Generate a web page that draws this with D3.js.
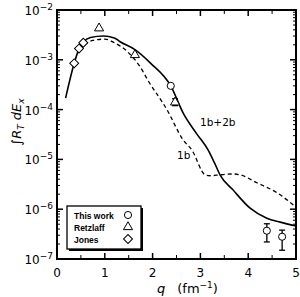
<!DOCTYPE html>
<html>
<head>
<meta charset="utf-8">
<script src="https://cdn.jsdelivr.net/npm/d3@7"></script>
<style>
  body { margin: 0; background: #fff; }
  svg { display: block; font-family: "DejaVu Sans", sans-serif; }
</style>
</head>
<body>
<svg width="300" height="297"></svg>
<script>
// q (fm^-1) and integrated strength
var fullQ = [0.18, 0.36, 0.46, 0.55, 0.7, 0.97, 1.2, 1.32, 1.63, 1.95, 2.38, 2.64, 2.92, 3.16, 3.3, 3.41, 3.68, 4.04, 4.39, 4.67, 5.0];
var fullVal = [1.7e-4, 8.5e-4, 1.66e-3, 2.25e-3, 2.8e-3, 3.0e-3, 2.75e-3, 2.3e-3, 1.6e-3, 8.7e-4, 3.0e-4, 8.5e-5, 3.3e-5, 1.55e-5, 8.3e-6, 4.9e-6, 2.45e-6, 1.05e-6, 6.6e-7, 5.5e-7, 4.6e-7];

var oneBQ = [0.57, 0.75, 1.0, 1.2, 1.46, 1.74, 1.9, 2.3, 2.64, 2.82, 3.1, 3.2, 3.41, 3.68, 3.83, 4.18, 4.6, 5.0];
var oneBVal = [2.0e-3, 2.45e-3, 2.6e-3, 2.2e-3, 1.5e-3, 7.2e-4, 3.9e-4, 1.0e-4, 2.45e-5, 1.55e-5, 4.9e-6, 4.7e-6, 4.9e-6, 5.1e-6, 4.9e-6, 3.4e-6, 2.15e-6, 1.1e-6];

var thisQ = [2.38, 4.39, 4.71];
var thisVal = [3.0e-4, 3.7e-7, 2.8e-7];
var thisLo = [null, 2.2e-7, 1.5e-7];
var thisHi = [null, 5.1e-7, 3.8e-7];

var retzQ = [0.88, 1.63, 2.47];
var retzVal = [4.3e-3, 1.25e-3, 1.4e-4];
var retzLo = [null, null, 1.2e-4];
var retzHi = [null, null, 1.65e-4];

var jonesQ = [0.36, 0.46, 0.55];
var jonesVal = [8.5e-4, 1.68e-3, 2.2e-3];

var xTicks = [0, 1, 2, 3, 4, 5];
var yExps = [-7, -6, -5, -4, -3, -2];
var legendNames = ["This work", "Retzlaff", "Jones"];

var svg = d3.select("svg"),
    mLeft = 57, mRight = 296, mTop = 10, mBottom = 259;

var x = d3.scaleLinear().domain([0, 5]).range([mLeft, mRight]);
var y = d3.scaleLog().domain([1e-7, 1e-2]).range([mBottom, mTop]);

var line = d3.line()
    .x(function(d) { return x(d[0]); })
    .y(function(d) { return y(d[1]); })
    .curve(d3.curveMonotoneX);

// curves
svg.append("path")
    .datum(d3.zip(fullQ, fullVal))
    .attr("d", line)
    .attr("fill", "none").attr("stroke", "#000").attr("stroke-width", 1.6);

svg.append("path")
    .datum(d3.zip(oneBQ, oneBVal))
    .attr("d", line)
    .attr("fill", "none").attr("stroke", "#000").attr("stroke-width", 1.3)
    .attr("stroke-dasharray", "4,3");

// axes: ticks point inward on all four sides
var minorY = [];
yExps.slice(0, -1).forEach(function(e) {
  for (var k = 2; k < 10; k++) minorY.push(k * Math.pow(10, e));
});
var majorY = yExps.map(function(e) { return Math.pow(10, e); });
var minorX = d3.range(0.5, 5, 1);

var axes = svg.append("g").attr("stroke", "#000");
majorY.forEach(function(v) {
  axes.append("line").attr("x1", mLeft).attr("x2", mLeft + 6).attr("y1", y(v)).attr("y2", y(v)).attr("stroke-width", 1.5);
  axes.append("line").attr("x1", mRight).attr("x2", mRight - 6).attr("y1", y(v)).attr("y2", y(v)).attr("stroke-width", 1.5);
});
minorY.forEach(function(v) {
  axes.append("line").attr("x1", mLeft).attr("x2", mLeft + 3).attr("y1", y(v)).attr("y2", y(v)).attr("stroke-width", 1);
  axes.append("line").attr("x1", mRight).attr("x2", mRight - 3).attr("y1", y(v)).attr("y2", y(v)).attr("stroke-width", 1);
});
xTicks.forEach(function(v) {
  axes.append("line").attr("x1", x(v)).attr("x2", x(v)).attr("y1", mBottom).attr("y2", mBottom - 6).attr("stroke-width", 1.5);
  axes.append("line").attr("x1", x(v)).attr("x2", x(v)).attr("y1", mTop).attr("y2", mTop + 6).attr("stroke-width", 1.5);
});
minorX.forEach(function(v) {
  axes.append("line").attr("x1", x(v)).attr("x2", x(v)).attr("y1", mBottom).attr("y2", mBottom - 4).attr("stroke-width", 1);
  axes.append("line").attr("x1", x(v)).attr("x2", x(v)).attr("y1", mTop).attr("y2", mTop + 4).attr("stroke-width", 1);
});
svg.append("rect")
    .attr("x", mLeft).attr("y", mTop)
    .attr("width", mRight - mLeft).attr("height", mBottom - mTop)
    .attr("fill", "none").attr("stroke", "#000").attr("stroke-width", 2);

// tick labels
svg.append("g").selectAll("text")
    .data(xTicks).enter().append("text")
    .attr("x", function(d) { return x(d); })
    .attr("y", 277)
    .attr("text-anchor", "middle")
    .attr("font-size", 12)
    .text(function(d) { return d; });

var yl = svg.append("g").selectAll("text")
    .data(yExps).enter().append("text")
    .attr("x", 53)
    .attr("y", function(d) { return y(Math.pow(10, d)) + 5; })
    .attr("text-anchor", "end")
    .attr("font-size", 12);
yl.append("tspan").text("10");
yl.append("tspan").attr("dy", -5).attr("font-size", 9).text(function(d) { return "\u2212" + (-d); });

// axis titles
var xt = svg.append("text").attr("x", 157).attr("y", 293).attr("font-size", 13);
xt.append("tspan").attr("font-style", "italic").text("q");
xt.append("tspan").attr("dx", 12).text("(fm");
xt.append("tspan").attr("dy", -5).attr("font-size", 9).text("\u22121");
xt.append("tspan").attr("dy", 5).text(")");

var yt = svg.append("text")
    .attr("transform", "translate(21,122) rotate(-90)")
    .attr("text-anchor", "middle")
    .attr("font-size", 13)
    .attr("font-style", "italic");
yt.append("tspan").attr("font-style", "normal").text("\u222B");
yt.append("tspan").text("R");
yt.append("tspan").attr("dy", 3).attr("font-size", 9).text("T");
yt.append("tspan").attr("dy", -3).text(" dE");
yt.append("tspan").attr("dy", 3).attr("font-size", 9).text("x");

// curve labels
svg.append("text").attr("x", 200).attr("y", 126).attr("font-size", 10.5).text("1b+2b");
svg.append("text").attr("x", 177).attr("y", 159).attr("font-size", 10.5).text("1b");

// markers
var circle = d3.symbol().type(d3.symbolCircle).size(40),
    tri = d3.symbol().type(d3.symbolTriangle).size(36),
    diamond = d3.symbol().type(d3.symbolSquare).size(40);

function errBars(qs, lo, hi) {
  var g = svg.append("g").attr("stroke", "#000").attr("stroke-width", 1.3);
  qs.forEach(function(q, i) {
    if (lo[i] == null) return;
    g.append("line").attr("x1", x(q)).attr("x2", x(q)).attr("y1", y(lo[i])).attr("y2", y(hi[i]));
    g.append("line").attr("x1", x(q) - 3).attr("x2", x(q) + 3).attr("y1", y(lo[i])).attr("y2", y(lo[i]));
    g.append("line").attr("x1", x(q) - 3).attr("x2", x(q) + 3).attr("y1", y(hi[i])).attr("y2", y(hi[i]));
  });
}
errBars(thisQ, thisLo, thisHi);
errBars(retzQ, retzLo, retzHi);

function marks(qs, vals, sym, rot) {
  svg.append("g").selectAll("path")
    .data(d3.zip(qs, vals)).enter().append("path")
    .attr("d", sym)
    .attr("transform", function(d) { return "translate(" + x(d[0]) + "," + y(d[1]) + ") rotate(" + rot + ")"; })
    .attr("fill", "#fff").attr("stroke", "#000").attr("stroke-width", 1);
}
marks(thisQ, thisVal, circle, 0);
marks(retzQ, retzVal, tri, 0);
marks(jonesQ, jonesVal, diamond, 45);

// legend
var lg = svg.append("g");
lg.append("rect").attr("x", 69).attr("y", 208).attr("width", 74).attr("height", 43).attr("fill", "#000");
lg.append("rect").attr("x", 67).attr("y", 206).attr("width", 74).attr("height", 43)
    .attr("fill", "#fff").attr("stroke", "#000").attr("stroke-width", 1.3);
var syms = [circle, tri, diamond], rots = [0, 0, 45];
legendNames.forEach(function(n, i) {
  var yy = 215 + i * 12;
  lg.append("text").attr("x", 74).attr("y", yy + 3.5)
    .attr("font-family", "Liberation Sans, sans-serif")
    .attr("font-size", 8.5).attr("font-weight", "bold").text(n);
  lg.append("path").attr("d", syms[i])
    .attr("transform", "translate(128," + yy + ") rotate(" + rots[i] + ")")
    .attr("fill", "#fff").attr("stroke", "#000").attr("stroke-width", 1);
});
</script>
</body>
</html>
